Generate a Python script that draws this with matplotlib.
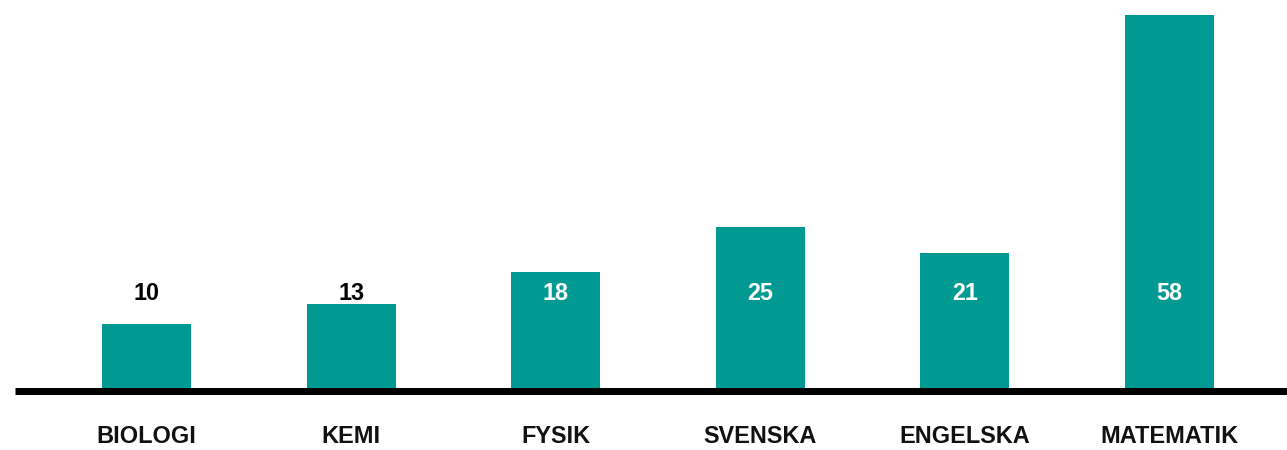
import matplotlib
matplotlib.use("Agg")
import matplotlib.pyplot as plt

categories = ["BIOLOGI", "KEMI", "FYSIK", "SVENSKA", "ENGELSKA", "MATEMATIK"]
values = [10, 13, 18, 25, 21, 58]

bar_color = "#009A93"
label_y = 14.75
threshold = 15

plt.rcParams['font.family'] = ['Liberation Sans', 'DejaVu Sans']

fig = plt.figure(figsize=(12.87, 4.5), dpi=100)
ax = fig.add_axes([15/1287, 62/450, 1 - 15/1287, 388/450])

x = list(range(len(categories)))
ax.bar(x, values, width=0.435, color=bar_color, zorder=2)

ax.set_xlim(-0.643, 5.574)
ax.set_ylim(0, 388/6.43)

for xi, v in zip(x, values):
    col = "white" if v > threshold else "black"
    ax.text(xi, label_y, str(v), ha="center", va="center", color=col,
            fontsize=16.8, fontweight="bold", zorder=3)

for xi, c in zip(x, categories):
    ax.text(xi, -7.6, c, ha="center", va="center", color="#111111",
            fontsize=16.9, fontweight="bold", clip_on=False)

ax.axhline(-0.54, color="black", lw=5.04, clip_on=False, zorder=4,
           solid_capstyle="butt")

for s in ax.spines.values():
    s.set_visible(False)
ax.set_xticks([])
ax.set_yticks([])
ax.patch.set_alpha(0)

fig.savefig("out.png", dpi=100)
